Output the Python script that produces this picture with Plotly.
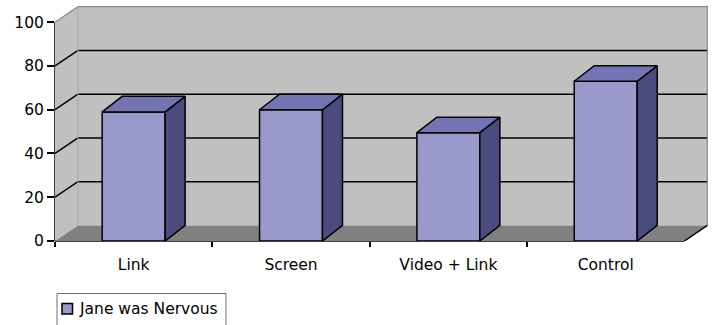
import plotly.graph_objects as go

# ---- data -------------------------------------------------------------
categories = ["Link", "Screen", "Video + Link", "Control"]
nervous = [59, 60, 49.5, 73]
y_ticks = [0, 20, 40, 60, 80, 100]
series_name = "Jane was Nervous"

# ---- geometry / style ---------------------------------------------------
W, H = 715, 325
M = dict(l=55, r=7, t=6, b=84)
X_RANGE = [-0.5, 3.65]
Y_RANGE = [0, 107.4]
Y_MAX = 100
DX, DY = 0.146, 7.1      # depth of the walls/floor box, in axis units
BDX, BDY = 0.127, 7.1    # depth of each column
BAR_W = 0.4

FRONT = "#9999CC"
TOP = "#7474B4"
SIDE = "#4B4B80"
WALL = "#C0C0C0"
FLOOR = "#808080"
EDGE = "#8A8A8A"
FONT = "DejaVu Sans"

x_lo = -0.5
x_hi = len(categories) - 0.5

plot_w = W - M["l"] - M["r"]
plot_h = H - M["t"] - M["b"]


def px_x(px):
    return (px - M["l"]) / plot_w


def px_y(py):
    return (H - M["b"] - py) / plot_h


def poly(pts):
    return "M " + " L ".join(f"{x},{y}" for x, y in pts) + " Z"


shapes = []
# left side wall
shapes.append(dict(type="path", xref="x", yref="y", layer="below",
                   path=poly([(x_lo, 0), (x_lo, Y_MAX), (x_lo + DX, Y_MAX + DY), (x_lo + DX, DY)]),
                   fillcolor=WALL, line=dict(width=0)))
# back wall
shapes.append(dict(type="path", xref="x", yref="y", layer="below",
                   path=poly([(x_lo + DX, DY), (x_hi + DX, DY), (x_hi + DX, Y_MAX + DY), (x_lo + DX, Y_MAX + DY)]),
                   fillcolor=WALL, line=dict(width=0)))
# floor
shapes.append(dict(type="path", xref="x", yref="y", layer="below",
                   path=poly([(x_lo, 0), (x_hi, 0), (x_hi + DX, DY), (x_lo + DX, DY)]),
                   fillcolor=FLOOR, line=dict(width=0)))
# gridlines on the walls
for v in y_ticks[1:-1]:
    shapes.append(dict(type="line", xref="x", yref="y", layer="below",
                       x0=x_lo + DX, x1=x_hi + DX, y0=v + DY, y1=v + DY,
                       line=dict(color="black", width=1.5)))
    shapes.append(dict(type="line", xref="x", yref="y", layer="below",
                       x0=x_lo, x1=x_lo + DX, y0=v, y1=v + DY,
                       line=dict(color="black", width=1.5)))
# wall outlines
shapes.append(dict(type="path", xref="x", yref="y", layer="below",
                   path=f"M {x_lo},{Y_MAX} L {x_lo + DX},{Y_MAX + DY} L {x_hi + DX},{Y_MAX + DY} L {x_hi + DX},{DY}",
                   line=dict(color=EDGE, width=1.2)))
shapes.append(dict(type="line", xref="x", yref="y", layer="below",
                   x0=x_lo + DX, x1=x_lo + DX, y0=DY, y1=Y_MAX + DY,
                   line=dict(color="#A8A8A8", width=1)))
# floor front and right edges
shapes.append(dict(type="line", xref="x", yref="paper", layer="below",
                   x0=x_lo, x1=x_hi, y0=0, y1=0, line=dict(color="black", width=1.5)))
shapes.append(dict(type="line", xref="x", yref="y", layer="below",
                   x0=x_hi, x1=x_hi + DX, y0=0, y1=DY, line=dict(color="black", width=1.5)))
# value axis line
shapes.append(dict(type="line", xref="paper", yref="y", layer="below",
                   x0=0, x1=0, y0=0, y1=Y_MAX, line=dict(color="black", width=1.5)))

# ---- legend (drawn by hand so it sits tight in its box) -----------------
shapes.append(dict(type="rect", xref="paper", yref="paper",
                   x0=px_x(57), x1=px_x(226), y0=px_y(293.5), y1=px_y(345),
                   line=dict(color="#6E6E6E", width=1), fillcolor="white"))
shapes.append(dict(type="rect", xref="paper", yref="paper",
                   x0=px_x(62), x1=px_x(72.5), y0=px_y(303.5), y1=px_y(314),
                   line=dict(color="black", width=1.5), fillcolor=FRONT))
annotations = [dict(xref="paper", yref="paper", x=px_x(77), y=px_y(309),
                    xanchor="left", yanchor="middle", showarrow=False,
                    text=series_name, font=dict(family=FONT, size=15.5, color="black"))]

# ---- columns --------------------------------------------------------------
xs = list(range(len(categories)))
fig = go.Figure()
fig.add_trace(go.Bar(x=xs, y=nervous, width=BAR_W, name=series_name,
                     marker=dict(color=FRONT, line=dict(color="black", width=1.5)),
                     showlegend=False, hoverinfo="skip"))

top_x, top_y, side_x, side_y = [], [], [], []
for c, v in zip(xs, nervous):
    l, r = c - BAR_W / 2, c + BAR_W / 2
    top_x += [l, r, r + BDX, l + BDX, l, None]
    top_y += [v, v, v + BDY, v + BDY, v, None]
    side_x += [r, r, r + BDX, r + BDX, r, None]
    side_y += [0, v, v + BDY, BDY, 0, None]

fig.add_trace(go.Scatter(x=side_x, y=side_y, mode="lines", fill="toself",
                         fillcolor=SIDE, line=dict(color="black", width=1.5),
                         showlegend=False, hoverinfo="skip"))
fig.add_trace(go.Scatter(x=top_x, y=top_y, mode="lines", fill="toself",
                         fillcolor=TOP, line=dict(color="black", width=1.5),
                         showlegend=False, hoverinfo="skip"))

fig.update_layout(
    width=W, height=H,
    margin=dict(M, pad=0, autoexpand=False),
    paper_bgcolor="white", plot_bgcolor="rgba(0,0,0,0)",
    showlegend=False,
    font=dict(family=FONT, size=15.5, color="black"),
    shapes=shapes, annotations=annotations,
    xaxis=dict(range=X_RANGE, tickmode="array", tickvals=xs, ticktext=categories,
               ticks="", showgrid=False, zeroline=False, showline=False,
               ticklabelstandoff=12,
               minor=dict(tickmode="array", tickvals=[x_lo + i for i in range(len(categories))],
                          ticks="outside", ticklen=5, tickwidth=1.5, tickcolor="black",
                          showgrid=False)),
    yaxis=dict(range=Y_RANGE, tickmode="array", tickvals=y_ticks,
               ticks="outside", ticklen=7, tickwidth=1.5, tickcolor="black",
               showgrid=False, zeroline=False, showline=False),
)

fig.write_html("out.html")
